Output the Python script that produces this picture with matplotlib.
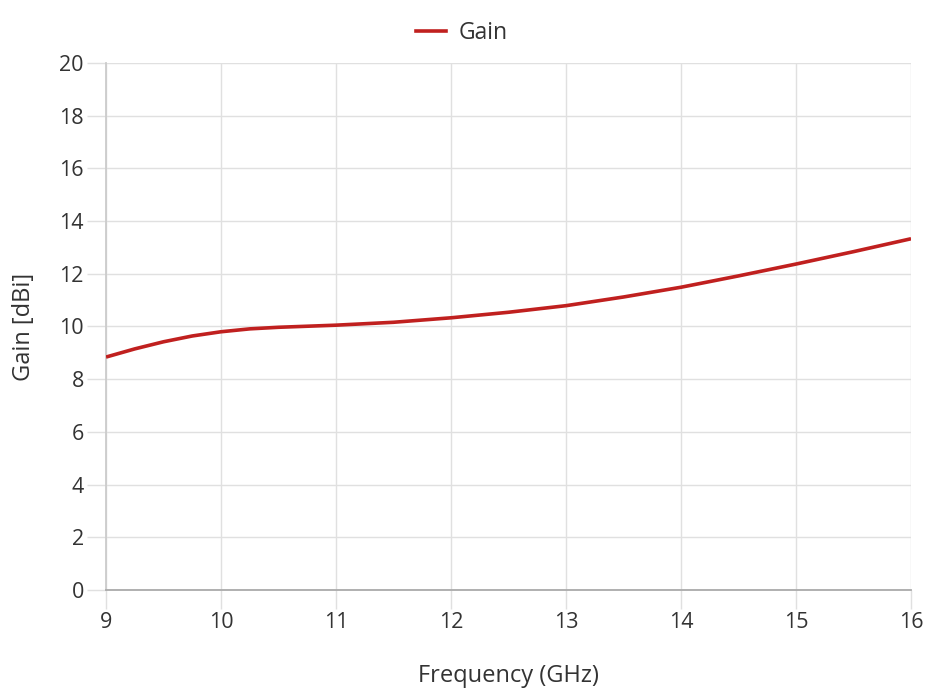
import matplotlib
matplotlib.use("Agg")
import matplotlib.pyplot as plt
from matplotlib.lines import Line2D

freq = [9.0, 9.25, 9.5, 9.75, 10.0, 10.25, 10.5, 10.75, 11.0, 11.5, 12.0, 12.5, 13.0, 13.5, 14.0, 14.5, 15.0, 15.5, 16.0]
gain = [8.84, 9.15, 9.42, 9.64, 9.80, 9.91, 9.97, 10.01, 10.05, 10.16, 10.33, 10.54, 10.79, 11.12, 11.49, 11.92, 12.37, 12.84, 13.33]
xticks = [9, 10, 11, 12, 13, 14, 15, 16]
yticks = [0, 2, 4, 6, 8, 10, 12, 14, 16, 18, 20]

plt.rcParams['font.family'] = ['Open Sans', 'DejaVu Sans']
fig = plt.figure(figsize=(9.3, 6.96), dpi=100)
ax = fig.add_axes([0.114, 0.1523, 0.8656, 0.7572])

red = '#c0201f'
ax.plot(freq, gain, color=red, lw=2.6, solid_capstyle='butt', solid_joinstyle='round', zorder=3)

ax.set_xlim(9, 16)
ax.set_ylim(0, 20)
ax.set_xticks(xticks)
ax.set_yticks(yticks)
ax.set_xticklabels([str(v) for v in xticks])
ax.set_yticklabels([str(v) for v in yticks])
ax.grid(True, color='#e0e0e0', lw=1)
for s in ['top', 'right']:
    ax.spines[s].set_visible(False)
ax.spines['bottom'].set_color('#aaaaaa')
ax.spines['bottom'].set_linewidth(1.3)
ax.spines['left'].set_color('#cccccc')
ax.spines['left'].set_linewidth(1.3)
ax.tick_params(axis='both', length=14, width=1, color='#e0e0e0', labelsize=15.5, labelcolor='#333333')
ax.tick_params(axis='x', pad=2)
ax.tick_params(axis='y', pad=2)

ax.set_xlabel('Frequency (GHz)', fontsize=17, color='#333333', labelpad=22)
ax.set_ylabel('Gain [dBi]', fontsize=17, color='#333333', labelpad=17)

handle = Line2D([0], [0], color=red, lw=2.6)
fig.legend([handle], ['Gain'], loc='center', bbox_to_anchor=(0.497, 0.953),
           frameon=False, fontsize=16.5, handlelength=1.3, handletextpad=0.55,
           labelcolor='#333333')

fig.savefig('out.png', dpi=100, facecolor='white')
